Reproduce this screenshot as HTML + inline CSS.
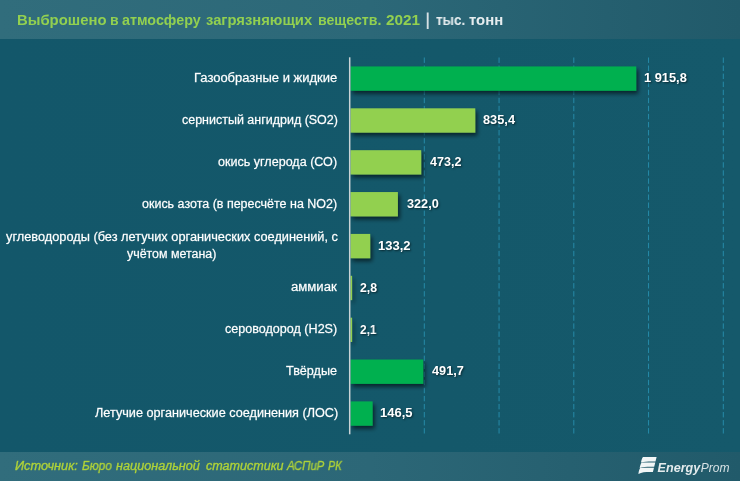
<!DOCTYPE html>
<html><head><meta charset="utf-8">
<title>chart</title>
<style>
html,body{margin:0;padding:0;}
body{width:740px;height:481px;overflow:hidden;position:relative;background:#14586a;font-family:"Liberation Sans",sans-serif;}
#bg{position:absolute;left:0;top:0;width:740px;height:481px;background:linear-gradient(90deg,#13576a 0%,#14586a 60%,#15596b 100%);}
#hdr{position:absolute;left:0;top:0;width:740px;height:38.8px;background:linear-gradient(90deg,#316d7c 0%,#2c6878 50%,#215a6a 100%);}
#ftr{position:absolute;left:0;top:452px;width:740px;height:29px;background:linear-gradient(90deg,#316d7c 0%,#2c6777 50%,#215a6a 100%);}
.t{position:absolute;white-space:pre;display:inline-block;will-change:transform;transform-origin:0 50%;}
.ti{top:11px;font-size:14px;font-weight:bold;color:#92d050;line-height:18px;}
.un{top:11px;font-size:14px;font-weight:bold;color:#e6edef;line-height:18px;}
.src{top:457.5px;font-size:12px;font-style:italic;color:#b0d338;line-height:16px;-webkit-text-stroke:0.4px rgba(176,211,56,.8);}
.lab{font-size:12px;color:#fff;line-height:15px;-webkit-text-stroke:0.3px rgba(255,255,255,.75);}
.val{font-size:12px;font-weight:bold;color:#fff;line-height:15px;text-shadow:1px 1px 2px rgba(0,0,0,.55);}
</style></head><body>
<div id="bg"></div><div id="hdr"></div><div id="ftr"></div>
<svg style="position:absolute;left:0;top:0" width="740" height="481" viewBox="0 0 740 481"><defs><filter id="sh" filterUnits="userSpaceOnUse" x="340" y="50" width="400" height="400"><feGaussianBlur in="SourceAlpha" stdDeviation="2.2"/><feOffset dx="2.2" dy="2.6"/><feComponentTransfer><feFuncA type="linear" slope="0.6"/></feComponentTransfer><feMerge><feMergeNode/><feMergeNode in="SourceGraphic"/></feMerge></filter></defs><line x1="424.30" y1="57.5" x2="424.30" y2="434.2" stroke="#2c9bbd" stroke-width="1" stroke-dasharray="5.4 2.657" opacity="0.75"/><line x1="499.05" y1="57.5" x2="499.05" y2="434.2" stroke="#2c9bbd" stroke-width="1" stroke-dasharray="5.4 2.657" opacity="0.75"/><line x1="573.80" y1="57.5" x2="573.80" y2="434.2" stroke="#2c9bbd" stroke-width="1" stroke-dasharray="5.4 2.657" opacity="0.75"/><line x1="648.55" y1="57.5" x2="648.55" y2="434.2" stroke="#2c9bbd" stroke-width="1" stroke-dasharray="5.4 2.657" opacity="0.75"/><line x1="723.30" y1="57.5" x2="723.30" y2="434.2" stroke="#2c9bbd" stroke-width="1" stroke-dasharray="5.4 2.657" opacity="0.75"/><rect x="350.50" y="66.45" width="285.70" height="24.30" fill="#00b050" filter="url(#sh)"/><rect x="350.50" y="108.32" width="124.75" height="24.30" fill="#92d050" filter="url(#sh)"/><rect x="350.50" y="150.19" width="70.70" height="24.30" fill="#92d050" filter="url(#sh)"/><rect x="350.50" y="192.06" width="47.40" height="24.30" fill="#92d050" filter="url(#sh)"/><rect x="350.50" y="233.93" width="19.70" height="24.30" fill="#92d050" filter="url(#sh)"/><rect x="350.50" y="275.80" width="1.60" height="24.30" fill="#92d050" filter="url(#sh)"/><rect x="350.50" y="317.67" width="1.60" height="24.30" fill="#92d050" filter="url(#sh)"/><rect x="350.50" y="359.54" width="72.70" height="24.30" fill="#00b050" filter="url(#sh)"/><rect x="350.50" y="401.41" width="22.10" height="24.30" fill="#00b050" filter="url(#sh)"/><rect x="348.95" y="57.3" width="1.5" height="377" fill="#c9d3d6"/><rect x="426.75" y="12.5" width="1.9" height="16.5" fill="#d5e0e3"/></svg>
<div class="t ti" id="ti0" style="left:17.20px;transform:scaleX(1.0614);">Выброшено</div>
<div class="t ti" id="ti1" style="left:109.70px;transform:scaleX(1.0000);">в</div>
<div class="t ti" id="ti2" style="left:121.74px;transform:scaleX(1.0215);">атмосферу</div>
<div class="t ti" id="ti3" style="left:205.94px;transform:scaleX(1.0544);">загрязняющих</div>
<div class="t ti" id="ti4" style="left:317.99px;transform:scaleX(1.0098);">веществ.</div>
<div class="t ti" id="ti5" style="left:385.95px;transform:scaleX(1.0942);">2021</div>
<div class="t un" id="un0" style="left:435.56px;transform:scaleX(0.9593);">тыс.</div>
<div class="t un" id="un1" style="left:468.53px;transform:scaleX(1.0645);">тонн</div>
<div class="t src" id="sr0" style="left:15.00px;transform:scaleX(1.0627);">Источник:</div>
<div class="t src" id="sr1" style="left:82.20px;transform:scaleX(0.9900);">Бюро</div>
<div class="t src" id="sr2" style="left:116.20px;transform:scaleX(1.0520);">национальной</div>
<div class="t src" id="sr3" style="left:205.64px;transform:scaleX(1.0446);">статистики</div>
<div class="t src" id="sr4" style="left:287.15px;transform:scaleX(0.9481);">АСПиР</div>
<div class="t src" id="sr5" style="left:327.80px;transform:scaleX(0.9000);">РК</div>
<div class="t lab" id="l0" style="left:194.09px;top:70.95px;transform:scaleX(1.0819);">Газообразные и жидкие</div>
<div class="t val" id="v0" style="left:644.30px;top:71.40px;transform:scaleX(1.0692);">1 915,8</div>
<div class="t lab" id="l1" style="left:181.54px;top:112.82px;transform:scaleX(1.0399);">сернистый ангидрид (SO2)</div>
<div class="t val" id="v1" style="left:483.33px;top:113.27px;transform:scaleX(1.0655);">835,4</div>
<div class="t lab" id="l2" style="left:218.34px;top:154.69px;transform:scaleX(1.0460);">окись углерода (СО)</div>
<div class="t val" id="v2" style="left:430.00px;top:155.14px;transform:scaleX(1.0454);">473,2</div>
<div class="t lab" id="l3" style="left:142.24px;top:196.56px;transform:scaleX(1.0404);">окись азота (в пересчёте на NO2)</div>
<div class="t val" id="v3" style="left:407.24px;top:197.01px;transform:scaleX(1.0576);">322,0</div>
<div class="t lab" id="l4a" style="left:5.67px;top:229.93px;transform:scaleX(1.0641);">углеводороды (без летучих органических соединений, с</div>
<div class="t lab" id="l4b" style="left:126.76px;top:247.23px;transform:scaleX(1.0342);">учётом метана)</div>
<div class="t val" id="v4" style="left:378.09px;top:238.88px;transform:scaleX(1.0828);">133,2</div>
<div class="t lab" id="l5" style="left:290.83px;top:280.30px;transform:scaleX(1.0946);">аммиак</div>
<div class="t val" id="v5" style="left:359.74px;top:280.75px;transform:scaleX(1.0250);">2,8</div>
<div class="t lab" id="l6" style="left:225.24px;top:322.17px;transform:scaleX(1.0475);">сероводород (H2S)</div>
<div class="t val" id="v6" style="left:359.75px;top:322.62px;transform:scaleX(0.9846);">2,1</div>
<div class="t lab" id="l7" style="left:286.10px;top:364.04px;transform:scaleX(1.0508);">Твёрдые</div>
<div class="t val" id="v7" style="left:432.20px;top:364.49px;transform:scaleX(1.0610);">491,7</div>
<div class="t lab" id="l8" style="left:94.60px;top:405.91px;transform:scaleX(1.0559);">Летучие органические соединения (ЛОС)</div>
<div class="t val" id="v8" style="left:380.19px;top:406.36px;transform:scaleX(1.0828);">146,5</div>
<svg id="logo" style="position:absolute;left:636px;top:454px;will-change:transform" width="100" height="24" viewBox="0 0 100 24">
<g fill="#f2f6f7">
<path d="M7.00 3.10 L20.60 3.10 L19.50 7.50 C14.00 7.35 9.00 7.40 5.00 8.60 C5.30 6.70 6.00 4.30 7.00 3.10 Z"/>
<path d="M5.70 8.40 L19.30 8.40 L18.20 12.80 C12.70 12.65 7.70 12.70 3.70 13.90 C4.00 12.00 4.70 9.60 5.70 8.40 Z"/>
<path d="M4.40 13.70 L18.00 13.70 L16.90 18.10 C11.40 17.95 6.40 18.00 2.40 19.90 C2.70 17.30 3.40 14.90 4.40 13.70 Z"/>
</g>
<text x="21.6" y="18.2" font-family="Liberation Sans, sans-serif" font-size="12.3" font-style="italic" font-weight="bold" fill="#e4ebed" textLength="42.6" lengthAdjust="spacingAndGlyphs">Energy</text>
<text x="64.8" y="18.2" font-family="Liberation Sans, sans-serif" font-size="12.3" font-style="italic" fill="#d6e1e4" textLength="28.8" lengthAdjust="spacingAndGlyphs">Prom</text>
</svg>
</body></html>
